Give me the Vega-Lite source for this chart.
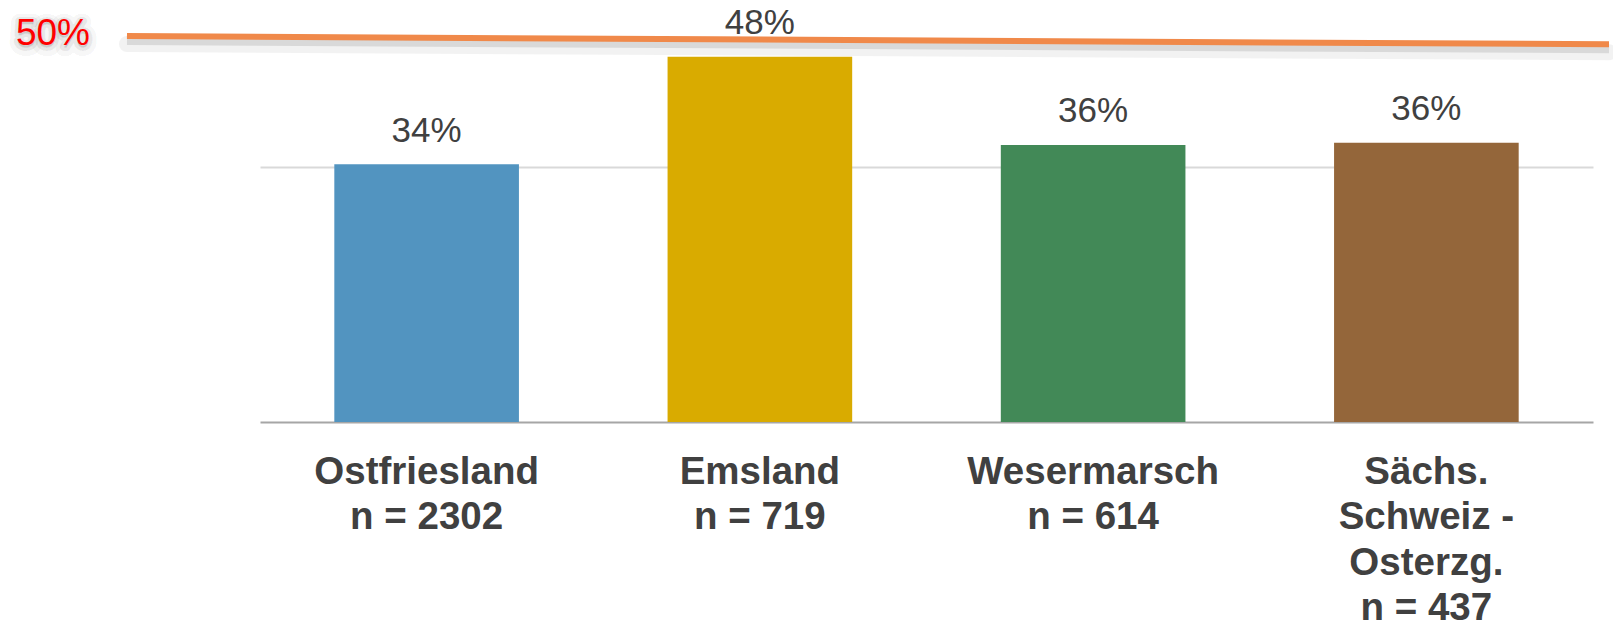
{
  "$schema": "https://vega.github.io/schema/vega-lite/v6.json",
  "width": 1333,
  "height": 400,
  "autosize": {"type": "none"},
  "padding": {"left": 260, "top": 22, "right": 20, "bottom": 201},
  "background": "white",
  "config": {"view": {"stroke": null}, "font": "Liberation Sans"},
  "datasets": {
    "regions": [
      {"region": "Ostfriesland", "label": "Ostfriesland\nn = 2302", "share": 33.82, "text": "34%"},
      {"region": "Emsland", "label": "Emsland\nn = 719", "share": 47.95, "text": "48%"},
      {"region": "Wesermarsch", "label": "Wesermarsch\nn = 614", "share": 36.36, "text": "36%"},
      {"region": "Sächs. Schweiz - Osterzg.", "label": "Sächs.\nSchweiz -\nOsterzg.\nn = 437", "share": 36.66, "text": "36%"}
    ],
    "threshold": [
      {"pos": -0.0998, "share": 50.66},
      {"pos": 1.012, "share": 49.57}
    ],
    "thresholdLabel": [
      {"pos": -0.1553, "share": 49.48, "text": "50%"}
    ]
  },
  "layer": [
    {
      "data": {"name": "regions"},
      "encoding": {
        "x": {
          "field": "label", "type": "nominal", "sort": null,
          "scale": {"paddingInner": 0.446, "paddingOuter": 0.223},
          "axis": {
            "title": null,
            "labelExpr": "split(datum.label, '\\n')",
            "labelFontSize": 38.5,
            "labelFontWeight": "bold",
            "labelColor": "#404040",
            "labelLineHeight": 45.5,
            "labelPadding": 31,
            "labelBaseline": "top",
            "labelAngle": 0,
            "labelLimit": 0,
            "labelOverlap": false,
            "labelFlush": false,
            "ticks": false,
            "domainColor": "#A6A6A6",
            "domainWidth": 2
          }
        },
        "y": {
          "field": "share", "type": "quantitative", "title": null,
          "scale": {"domain": [0, 52.5], "nice": false, "zero": true},
          "axis": {
            "labels": false, "ticks": false, "domain": false, "grid": true,
            "values": [33.5], "gridColor": "#D9D9D9", "gridWidth": 2
          }
        }
      },
      "layer": [
        {
          "mark": {"type": "bar"},
          "encoding": {
            "color": {
              "field": "region", "type": "nominal", "legend": null,
              "scale": {
                "domain": ["Ostfriesland", "Emsland", "Wesermarsch", "Sächs. Schweiz - Osterzg."],
                "range": ["#5294C0", "#D9AB00", "#428957", "#94663A"]
              }
            }
          }
        },
        {
          "mark": {"type": "text", "fontSize": 35, "color": "#404040", "baseline": "alphabetic", "dy": -22.5},
          "encoding": {"text": {"field": "text"}}
        }
      ]
    },
    {
      "data": {"name": "threshold"},
      "encoding": {
        "x": {"field": "pos", "type": "quantitative", "scale": {"domain": [0, 1], "nice": false, "zero": false}, "axis": null},
        "y": {"field": "share", "type": "quantitative", "title": null}
      },
      "layer": [
        {"mark": {"type": "line", "stroke": "#000000", "strokeOpacity": 0.05, "strokeWidth": 16, "yOffset": 8, "strokeCap": "round"}},
        {"mark": {"type": "line", "stroke": "#000000", "strokeOpacity": 0.1, "strokeWidth": 8, "yOffset": 5, "strokeCap": "butt"}},
        {"mark": {"type": "line", "stroke": "#F0894A", "strokeWidth": 6, "strokeCap": "butt"}}
      ]
    },
    {
      "data": {"name": "thresholdLabel"},
      "encoding": {
        "x": {"field": "pos", "type": "quantitative", "scale": {"domain": [0, 1], "nice": false, "zero": false}, "axis": null},
        "y": {"field": "share", "type": "quantitative", "title": null},
        "text": {"field": "text"}
      },
      "layer": [
        {"mark": {"type": "text", "fontSize": 37, "baseline": "alphabetic", "dy": 3, "fill": "#000000", "fillOpacity": 0.06, "stroke": "#000000", "strokeOpacity": 0.05, "strokeWidth": 16, "strokeJoin": "round"}},
        {"mark": {"type": "text", "fontSize": 37, "baseline": "alphabetic", "dy": 2, "fill": "#000000", "fillOpacity": 0.08, "stroke": "#000000", "strokeOpacity": 0.06, "strokeWidth": 8, "strokeJoin": "round"}},
        {"mark": {"type": "text", "fontSize": 37, "baseline": "alphabetic", "fill": "#FF0000"}}
      ]
    }
  ],
  "resolve": {"scale": {"x": "independent"}}
}
